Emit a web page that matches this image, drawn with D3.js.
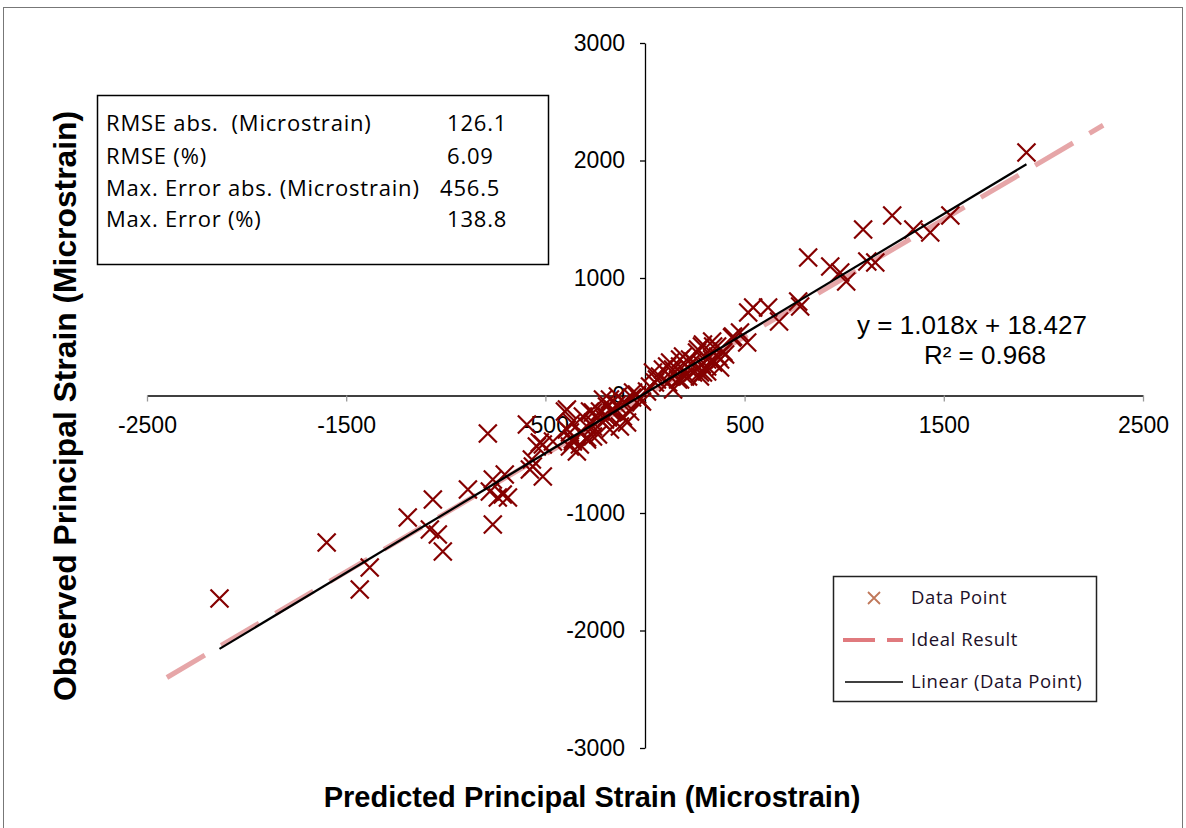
<!DOCTYPE html>
<html>
<head>
<meta charset="utf-8">
<script src="https://cdn.jsdelivr.net/npm/d3@7"></script>
<style>
  html, body { margin: 0; padding: 0; background: #fff; }
  svg { display: block; }
</style>
</head>
<body>
<svg id="chart" width="1186" height="828"></svg>
<script>
// Predicted vs. observed principal strain (microstrain)
const predicted = [
  -2136, -1598, -1432, -1382, -1191, -1065, -1080, -1040, -1015, -789,
  -593, -402, -543, -528, -568, -563, -513, -578, -704, -764,
  -889, -779, -714, -688, -739, -764, -377, -362, -327, -291,
  -261, -191, -161, -226, -462, -392, -276, -261, -342, -291,
  -236, -211, -191, -166, -141, -111, -75, -60, -25, -90,
  -126, -201, -176, -513, -392, -367, -312, -261, -176, -136,
  -101, -65, -40, -15, -226, -186, -161, -327, -362, -291,
  -261, -377,
  518, 477, 513, 442, 392, 377, 337, 312, 286, 342,
  261, 226, 191, 176, 141, 126, 90, 75, 60, 40,
  25, 116, 141, 276, 291, 377, 261, 216, 176, 10,
  437, 402, 362, 337, 291, 266, 312, 286, 241, 216,
  176, 111, 50, 126, 166, 201, 241, 276, 312, 342,
  367, 392,
  543, 618, 673, 769, 779, 819, 930, 980, 1010, 1095,
  1116, 1156, 1241, 1347, 1432, 1533, 1915
];
const observed = [
  -1728, -1251, -1651, -1464, -1038, -885, -1140, -1183, -1328, -323,
  -247, -136, -434, -400, -545, -604, -689, -630, -672, -715,
  -800, -817, -843, -868, -868, -1098, -315, -391, -417, -357,
  -264, -179, -119, -136, -391, -289, -136, -230, -477, -374,
  -332, -34, -94, -145, -77, -179, -136, 26, -34, -230,
  -264, -204, -289, -417, -119, -230, -179, -145, -34, -9,
  -60, -17, 9, -51, -204, -187, -136, -315, -374, -264,
  -349, -434,
  706, 536, 451, 502, 366, 306, 306, 247, 417, 417,
  366, 306, 332, 247, 221, 281, 221, 162, 136, 196,
  77, 111, 51, 162, 196, 238, 221, 162, 136, 34,
  494, 349, 417, 460, 434, 391, 306, 264, 289, 238,
  306, 247, 111, 162, 136, 162, 196, 196, 204, 281,
  332, 374,
  749, 749, 630, 800, 757, 1174, 1098, 1047, 970, 1413,
  1140, 1132, 1532, 1413, 1387, 1532, 2068
];

// Ideal result (observed = predicted) end points
const idealRange = [-2400, 2300];

// Linear fit through the data points
const fitSlope = 1.018;
const fitIntercept = 18.427;
const fitR2 = 0.968;

// Axis ticks
const xTicks = [-2500, -1500, -500, 500, 1500, 2500];
const yTicks = [-3000, -2000, -1000, 0, 1000, 2000, 3000];

// Error statistics panel
const statLabels = ["RMSE abs.  (Microstrain)", "RMSE (%)", "Max. Error abs. (Microstrain)", "Max. Error (%)"];
const statValues = ["126.1", "6.09", "456.5", "138.8"];

const legendLabels = ["Data Point", "Ideal Result", "Linear (Data Point)"];

const svg = d3.select("#chart");
const ARIAL = "'Liberation Sans', Arial, sans-serif";
const SOFT = "'Open Sans', Lato, sans-serif";
const plain = d => String(d);

// outer chart border
svg.append("rect")
  .attr("x", 3.5).attr("y", 7.5).attr("width", 1179).attr("height", 830)
  .attr("fill", "none").attr("stroke", "#777").attr("stroke-width", 1);

const x = d3.scaleLinear().domain([-2500, 2500]).range([147, 1143]);
const y = d3.scaleLinear().domain([-3000, 3000]).range([748, 43]);

// x axis crosses at y = 0
const xAxis = svg.append("g")
  .attr("transform", `translate(0,${y(0)})`)
  .call(d3.axisBottom(x).tickValues(xTicks).tickSize(6).tickSizeOuter(0).tickPadding(15).tickFormat(plain));
xAxis.select(".domain").attr("stroke", "#000").attr("stroke-width", 1.3);
xAxis.selectAll(".tick line").attr("stroke", "#999").attr("stroke-width", 1.3);
xAxis.selectAll(".tick text").attr("font-family", ARIAL).attr("font-size", 23).attr("fill", "#000");

// y axis crosses at x = 0
const yAxis = svg.append("g")
  .attr("transform", `translate(${x(0)},0)`)
  .call(d3.axisLeft(y).tickValues(yTicks).tickSize(5).tickSizeOuter(0).tickPadding(15).tickFormat(plain));
yAxis.select(".domain").attr("stroke", "#000").attr("stroke-width", 1.3);
yAxis.selectAll(".tick line").attr("stroke", "#000").attr("stroke-width", 1.3);
yAxis.selectAll(".tick text").attr("font-family", ARIAL).attr("font-size", 23).attr("fill", "#000");

// ideal result line
const line = d3.line().x(d => x(d[0])).y(d => y(d[1]));
svg.append("path")
  .datum(idealRange.map(v => [v, v]))
  .attr("d", line)
  .attr("fill", "none")
  .attr("stroke", "#d9777a")
  .attr("stroke-opacity", 0.65)
  .attr("stroke-width", 5)
  .attr("stroke-dasharray", "44,19");

// data points drawn as crosses
const pts = predicted.map((p, i) => [p, observed[i]]);
const r = 9;
svg.append("g").selectAll("path")
  .data(pts)
  .join("path")
  .attr("d", d => {
    const cx = x(d[0]), cy = y(d[1]);
    return `M${cx - r},${cy - r}L${cx + r},${cy + r}M${cx - r},${cy + r}L${cx + r},${cy - r}`;
  })
  .attr("stroke", "#850000")
  .attr("stroke-width", 2.2)
  .attr("fill", "none");

// linear fit over the range of the data
const xmin = d3.min(predicted), xmax = d3.max(predicted);
svg.append("path")
  .datum([xmin, xmax].map(v => [v, fitSlope * v + fitIntercept]))
  .attr("d", line)
  .attr("fill", "none")
  .attr("stroke", "#000")
  .attr("stroke-width", 2.2);

// fit equation
svg.append("text")
  .attr("x", 972).attr("y", 334)
  .attr("text-anchor", "middle")
  .attr("font-family", ARIAL).attr("font-size", 26)
  .text(`y = ${fitSlope.toFixed(3)}x + ${fitIntercept.toFixed(3)}`);
svg.append("text")
  .attr("x", 985).attr("y", 364)
  .attr("text-anchor", "middle")
  .attr("font-family", ARIAL).attr("font-size", 26)
  .text(`R² = ${fitR2.toFixed(3)}`);

// axis titles
svg.append("text")
  .attr("x", 592).attr("y", 807)
  .attr("text-anchor", "middle")
  .attr("font-family", ARIAL).attr("font-size", 29).attr("font-weight", "bold")
  .text("Predicted Principal Strain (Microstrain)");
svg.append("text")
  .attr("transform", "translate(76,406) rotate(-90)")
  .attr("text-anchor", "middle")
  .attr("font-family", ARIAL).attr("font-size", 31.8).attr("font-weight", "bold")
  .text("Observed Principal Strain (Microstrain)");

// statistics panel
const stats = svg.append("g");
stats.append("rect")
  .attr("x", 97.5).attr("y", 95.5).attr("width", 451).attr("height", 169)
  .attr("fill", "#fff").attr("stroke", "#000").attr("stroke-width", 1.5);
const rowY = [131, 164, 196, 227];
const valX = [447, 447, 440, 447];
statLabels.forEach((t, i) => {
  stats.append("text").attr("x", 106).attr("y", rowY[i])
    .attr("font-family", SOFT).attr("font-size", 22).attr("fill", "#000")
    .attr("letter-spacing", 0.8)
    .attr("xml:space", "preserve").style("white-space", "pre")
    .text(t);
  stats.append("text").attr("x", valX[i]).attr("y", rowY[i])
    .attr("font-family", SOFT).attr("font-size", 22).attr("fill", "#000")
    .attr("letter-spacing", 0.8)
    .text(statValues[i]);
});

// legend
const lg = svg.append("g");
lg.append("rect")
  .attr("x", 833.5).attr("y", 576.5).attr("width", 263).attr("height", 125)
  .attr("fill", "#fff").attr("stroke", "#222").attr("stroke-width", 1.5);
const legY = [598, 640, 682];
legendLabels.forEach((t, i) => {
  lg.append("text").attr("x", 911).attr("y", legY[i] + 6)
    .attr("font-family", SOFT).attr("font-size", 18.5).attr("fill", "#1c1028")
    .attr("letter-spacing", 0.6)
    .text(t);
});
const mr = 6;
lg.append("path")
  .attr("d", `M${874 - mr},${598 - mr}L${874 + mr},${598 + mr}M${874 - mr},${598 + mr}L${874 + mr},${598 - mr}`)
  .attr("stroke", "#c0785a").attr("stroke-width", 1.8);
lg.append("path")
  .attr("d", "M843,640L903,640")
  .attr("stroke", "#e07a7e").attr("stroke-width", 4)
  .attr("stroke-dasharray", "32,12");
lg.append("path")
  .attr("d", "M845,682L903,682")
  .attr("stroke", "#000").attr("stroke-width", 1.5);
</script>
</body>
</html>
